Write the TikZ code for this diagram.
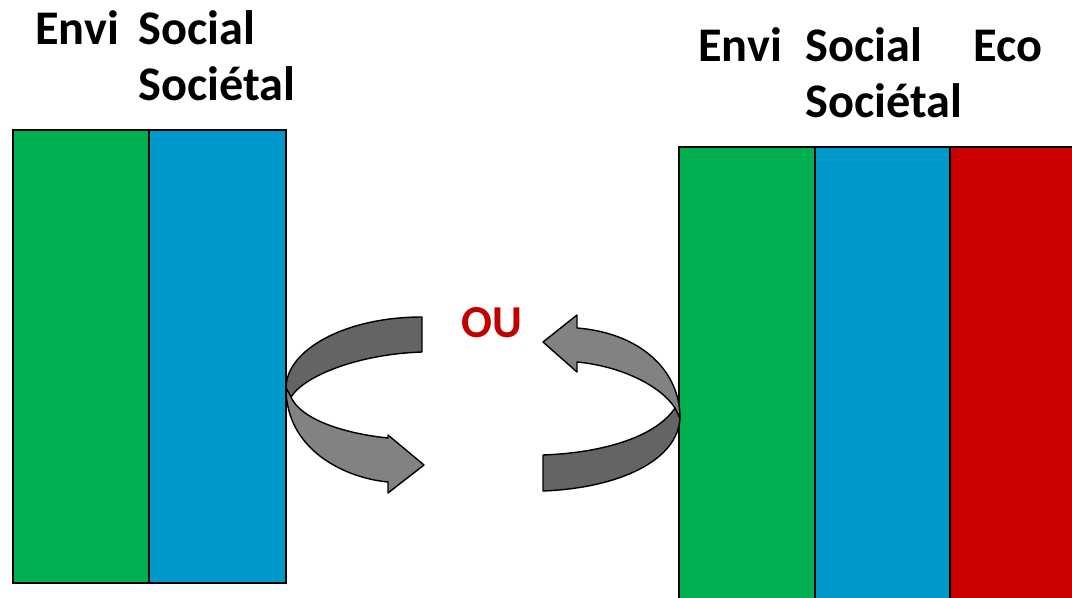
\documentclass[tikz,border=0pt]{standalone}
\usepackage{fontspec}
\setmainfont{Carlito}
\usetikzlibrary{positioning}
\definecolor{enviGreen}{HTML}{00B050}
\definecolor{socBlue}{HTML}{0099CC}
\definecolor{ecoRed}{HTML}{CC0000}
\definecolor{ouRed}{HTML}{C00000}
\definecolor{darkBand}{HTML}{646464}
\definecolor{lightBand}{HTML}{828282}
\tikzset{
  label/.style={inner sep=0pt, anchor=base west, font=\fontsize{27.5}{32}\selectfont\bfseries},
  bar/.style={draw=black, line width=0.8pt},
  band/.style={draw=black, line width=0.8pt, line join=round}
}
\begin{document}
\begin{tikzpicture}[x=0.02cm, y=-0.02cm]
\useasboundingbox (0,0) rectangle (1072,598);
\begin{scope}
\clip (0,0) rectangle (1072,598);
% gauche
\draw[bar, fill=enviGreen] (13,130) rectangle (149,583);
\draw[bar, fill=socBlue] (149,130) rectangle (286,583);
% droite
\draw[bar, fill=enviGreen] (679,147) rectangle (815,610);
\draw[bar, fill=socBlue] (815,147) rectangle (950,610);
\draw[bar, fill=ecoRed] (950,147) rectangle (1085,610);
\end{scope}

\node[label] (enviL) at (35,45) {Envi};
\node[label] (socialL) at (138,45) {Social};
\node[label] (societalL) at (138,101) {Sociétal};
\node[label] (enviR) at (698,62) {Envi};
\node[label] (socialR) at (805,62) {Social};
\node[label] (ecoR) at (973,62) {Eco};
\node[label] (societalR) at (805,118) {Sociétal};
\node[label, text=ouRed, font=\fontsize{26}{30}\selectfont\bfseries] (ou) at (461,337) {OU};

% fleche gauche
\draw[band, fill=darkBand] (422,317) .. controls (345,317) and (286,350) .. (286,388)
  -- (291,397) .. controls (305,375) and (360,354) .. (422,352) -- cycle;
\draw[band, fill=lightBand] (286,388) .. controls (286,450) and (345,478) .. (388,482)
  -- (388,493) -- (424,465) -- (388,435) -- (388,438)
  .. controls (340,433) and (300,418) .. (291,397) -- cycle;
% fleche droite
\draw[band, fill=darkBand] (543,455) .. controls (600,453) and (655,438) .. (675,408)
  -- (680,418) .. controls (678,460) and (620,488) .. (543,491) -- cycle;
\draw[band, fill=lightBand] (675,408) .. controls (660,385) and (620,366) .. (577,362)
  -- (577,372) -- (543,342) -- (577,315) -- (577,328)
  .. controls (640,333) and (680,370) .. (680,418) -- cycle;
\end{tikzpicture}
\end{document}
